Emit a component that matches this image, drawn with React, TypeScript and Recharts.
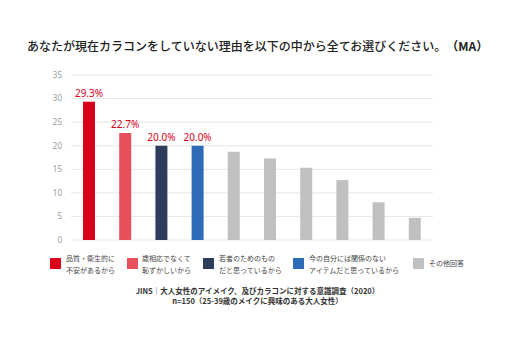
import React from "react"
import { BarChart, Bar, XAxis, YAxis, CartesianGrid, Cell, LabelList } from "recharts"

const categories = [
  "品質・衛生的に不安があるから",
  "歳相応でなくて恥ずかしいから",
  "若者のためのものだと思っているから",
  "今の自分には関係のないアイテムだと思っているから",
  "その他回答1",
  "その他回答2",
  "その他回答3",
  "その他回答4",
  "その他回答5",
  "その他回答6",
]
const values = [29.3, 22.7, 20.0, 20.0, 18.7, 17.3, 15.3, 12.7, 8.0, 4.7]
const barLabels = ["29.3%", "22.7%", "20.0%", "20.0%", "", "", "", "", "", ""]
const barColors = [
  "#d9001b",
  "#e8505c",
  "#2c3e5c",
  "#2f6cb8",
  "#c0c0c0",
  "#c0c0c0",
  "#c0c0c0",
  "#c0c0c0",
  "#c0c0c0",
  "#c0c0c0",
]
const yTicks = [0, 5, 10, 15, 20, 25, 30, 35]

const legendItems = [
  { lines: ["品質・衛生的に", "不安があるから"], color: "#d9001b", x: 50, tx: 66 },
  { lines: ["歳相応でなくて", "恥ずかしいから"], color: "#e8505c", x: 127, tx: 142 },
  { lines: ["若者のためのもの", "だと思っているから"], color: "#2c3e5c", x: 203, tx: 219 },
  { lines: ["今の自分には関係のない", "アイテムだと思っているから"], color: "#2f6cb8", x: 293, tx: 309 },
  { lines: ["その他回答"], color: "#c0c0c0", x: 413, tx: 429 },
]

const data = categories.map((name, i) => ({ name, value: values[i], label: barLabels[i] }))

const font = "'Noto Sans CJK JP', 'Noto Sans', sans-serif"

function LegendBox() {
  return (
    <div style={{ position: "absolute", left: 0, top: 258, width: 529, height: 30 }}>
      {legendItems.map((it) => (
        <React.Fragment key={it.lines[0]}>
          <div
            style={{
              position: "absolute",
              left: it.x,
              top: 0,
              width: 11,
              height: 11,
              background: it.color,
            }}
          />
          <div
            style={{
              position: "absolute",
              left: it.tx,
              top: it.lines.length === 1 ? -1 : -6,
              fontSize: 7,
              lineHeight: "12px",
              color: "#444",
              whiteSpace: "nowrap",
            }}
          >
            {it.lines.map((l) => (
              <div key={l}>{l}</div>
            ))}
          </div>
        </React.Fragment>
      ))}
    </div>
  )
}

export default function App() {
  return (
    <div
      style={{
        position: "absolute",
        left: 0,
        top: 0,
        width: 529,
        height: 355,
        background: "#fff",
        fontFamily: font,
      }}
    >
      <div
        style={{
          position: "absolute",
          left: 27,
          top: 37,
          fontSize: 12,
          fontWeight: 500,
          color: "#222",
          whiteSpace: "nowrap",
          lineHeight: "18px",
          textSpacingTrim: "space-all",
        } as React.CSSProperties}
      >
        あなたが現在カラコンをしていない理由を以下の中から全てお選びください。
        <span style={{ fontWeight: 700 }}>（MA）</span>
      </div>
      <BarChart
        width={529}
        height={355}
        data={data}
        margin={{ top: 75, right: 96, left: 31, bottom: 115 }}
        style={{ position: "absolute", left: 0, top: 0 }}
      >
        <CartesianGrid vertical={false} stroke="#e6e6e6" />
        <XAxis dataKey="name" hide />
        <YAxis
          domain={[0, 35]}
          ticks={yTicks}
          width={40}
          axisLine={false}
          tickLine={false}
          tickSize={0}
          tickMargin={9}
          tick={{ fontSize: 8, fill: "#999", fontFamily: "'Noto Sans', sans-serif" }}
        />
        <Bar dataKey="value" barSize={12} isAnimationActive={false}>
          {data.map((d, i) => (
            <Cell key={d.name} fill={barColors[i]} />
          ))}
          <LabelList
            dataKey="label"
            position="top"
            offset={5}
            style={{ fill: "#d9001b", fontSize: 10, fontFamily: "'Noto Sans', sans-serif" }}
          />
        </Bar>
      </BarChart>
      <LegendBox />
      <div
        style={{
          position: "absolute",
          left: 0,
          top: 286,
          width: 515,
          textAlign: "center",
          fontSize: 7.5,
          fontWeight: 700,
          color: "#333",
          lineHeight: "10px",
        }}
      >
        <div>JINS｜大人女性のアイメイク、及びカラコンに対する意識調査（2020）</div>
        <div>n=150（25-39歳のメイクに興味のある大人女性）</div>
      </div>
    </div>
  )
}
